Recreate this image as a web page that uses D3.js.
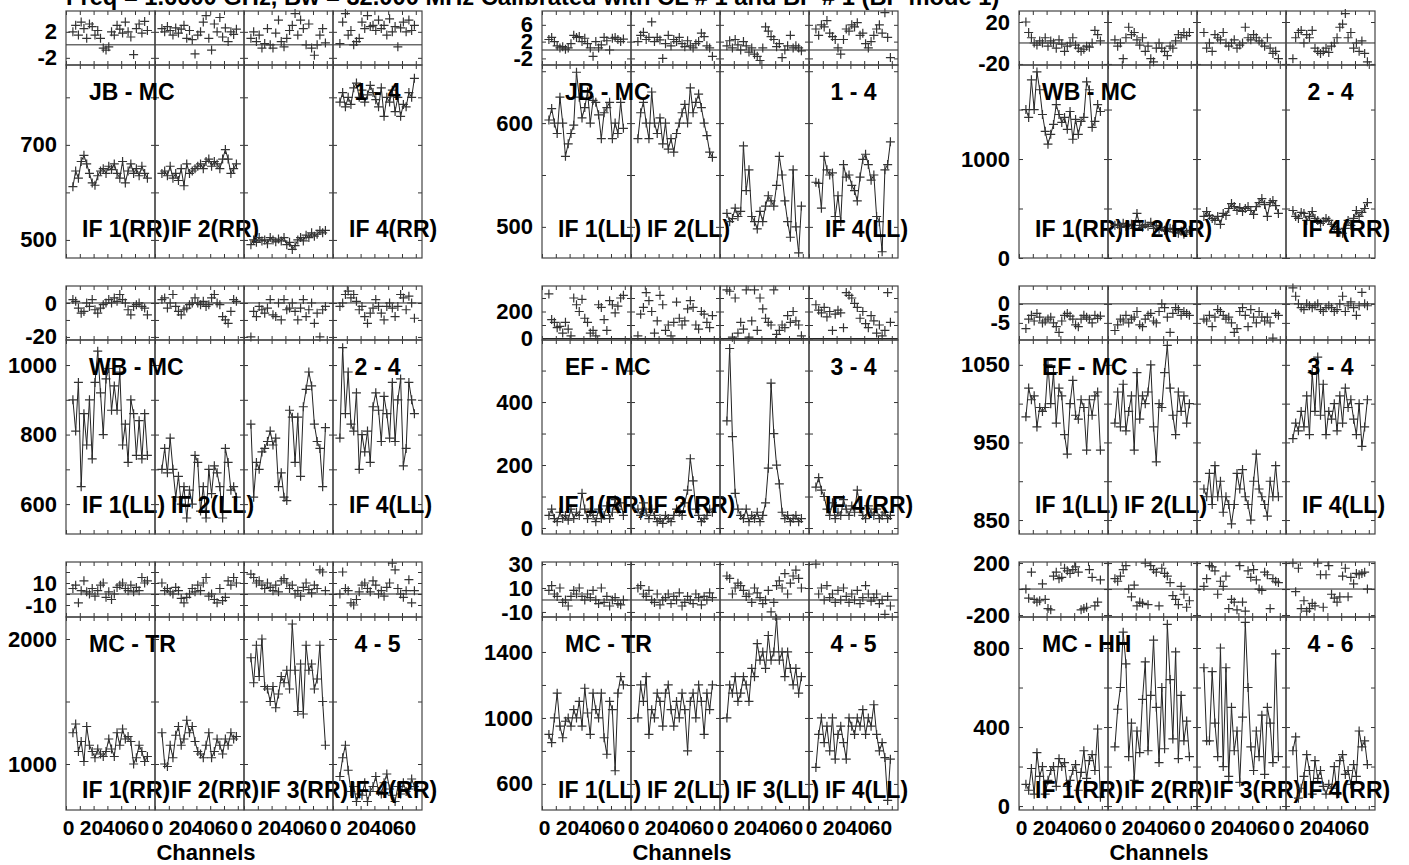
<!DOCTYPE html>
<html><head><meta charset="utf-8">
<script src="https://cdn.jsdelivr.net/npm/d3@7"></script>
<style>
body{margin:0;background:#fff;}
svg{display:block;}
text{font-family:"Liberation Sans",Arial,sans-serif;font-weight:bold;fill:#000;}
</style>
</head><body>
<svg id="c" width="1409" height="865"></svg>
<script>
// ---------------- data ----------------
const titleText = "Freq = 1.6600 GHz, Bw = 32.000 MHz Calibrated with CL # 1 and BP # 1 (BP mode 1)";
const channels = d3.range(5, 61, 2); // plotted channels 5..59
const xTickValues = [0, 10, 20, 30, 40, 50, 60];
const xTickLabels = [0, 20, 40, 60];

// JB - MC (RR)
const phase_JBMC_RR = [
 [2.0,3.0,1.5,3.5,2.5,1.0,3.2,2.8,1.5,2.2,1.0,-0.5,-0.8,-0.3,2.0,1.5,3.0,2.4,1.8,3.5,2.0,1.2,-1.5,2.5,3.2,1.8,3.6,2.2],
 [2.5,2.0,2.8,2.2,1.5,2.6,1.8,2.4,3.0,1.0,2.2,0.8,-1.4,1.5,2.0,3.5,4.5,1.0,-0.8,3.2,2.0,4.2,1.2,2.6,0.5,2.0,1.6,2.4],
 [1.0,2.0,0.5,1.5,-0.5,0.2,2.5,0.0,-0.5,1.8,3.8,0.5,-0.3,1.0,2.2,3.0,4.8,1.5,3.8,2.5,0.0,3.2,-0.5,-1.6,0.0,1.5,2.5,0.3],
 [0.2,3.5,4.8,1.5,2.2,0.0,0.5,1.0,3.5,2.5,4.5,2.8,3.0,2.2,3.8,2.5,3.0,1.5,4.0,2.0,2.8,-0.3,2.6,3.5,2.0,3.8,2.2,3.0]];
const amp_JBMC_RR = [
 [612,645,630,665,678,660,640,620,615,635,645,650,640,655,648,660,640,630,665,620,645,660,640,650,635,655,640,630],
 [640,645,635,655,630,640,625,650,614,660,640,645,650,655,660,650,665,670,655,665,660,650,670,690,670,640,650,660],
 [490,500,495,505,498,500,492,505,500,496,502,498,505,490,495,480,488,500,505,498,510,505,515,508,512,520,515,520],
 [790,810,780,800,785,820,830,800,815,790,805,825,810,795,780,820,760,800,790,815,770,800,760,785,780,810,800,840]];

// JB - MC (LL)
const phase_JBMC_LL = [
 [2.5,3.0,2.0,1.0,0.5,0.8,0.2,0.5,1.5,3.5,3.0,3.2,2.0,2.8,1.5,0.5,-1.5,2.0,0.5,1.2,3.0,2.2,0.0,2.8,3.0,2.5,2.0,2.6],
 [2.0,3.5,4.2,2.5,3.0,6.7,2.0,3.0,2.4,-2.0,1.5,3.5,1.0,2.5,2.0,3.0,1.5,0.8,2.2,1.0,0.5,1.5,2.0,4.0,3.2,1.0,0.5,-1.5],
 [1.0,2.2,0.5,2.5,1.2,0.0,2.0,1.0,-0.5,0.5,-1.0,-1.5,-2.5,0.5,5.5,4.5,3.2,2.5,0.8,1.5,-1.8,0.0,1.0,3.5,0.5,1.0,0.5,-0.2],
 [5.0,3.5,6.0,5.5,7.0,4.0,3.2,2.5,0.5,-1.0,2.5,5.0,4.5,6.0,5.5,6.5,3.5,4.0,1.5,0.5,2.0,3.5,5.0,6.0,4.0,8.9,3.0,-1.8]];
const amp_JBMC_LL = [
 [603,614,600,590,625,600,568,580,590,598,649,625,605,615,630,600,622,620,608,585,610,615,620,585,600,590,620,595],
 [585,610,620,600,585,630,600,590,605,580,600,575,585,572,590,600,610,618,600,634,610,620,628,615,600,588,572,567],
 [513,505,508,518,510,515,578,535,555,510,505,498,515,505,520,530,525,520,540,568,550,525,505,490,555,500,475,520],
 [543,542,518,568,555,550,552,510,530,505,560,548,550,540,535,525,548,565,570,560,545,550,510,505,476,555,560,582]];

// WB - MC (RR)
const phase_WBMC_RR = [
 [20,10,5,0,-2,2,0,5,-3,2,0,-5,3,-1,-8,-3,0,5,-2,-5,-8,-6,-3,-4,0,12,8,2],
 [3,-3,0,-15,5,15,8,10,3,-2,5,-8,-3,-15,-18,-5,0,-5,-8,-12,-3,-5,2,8,5,10,7,10],
 [10,-5,0,-8,8,5,3,10,0,-3,0,3,-5,-2,0,15,5,3,8,5,2,0,-3,5,-5,-10,-8,-15],
 [-15,5,10,12,0,8,5,12,-5,-8,-10,-8,-5,-9,-3,0,5,15,18,28,5,10,-5,0,-8,2,-10,-18]];
const amp_WBMC_RR = [
 [1500,1420,1800,1500,1880,1700,1450,1280,1150,1250,1350,1550,1450,1370,1420,1300,1480,1200,1400,1250,1380,1420,1780,1700,1320,1380,1550,1480],
 [330,340,310,350,320,330,340,300,450,330,310,340,320,360,300,330,290,310,280,270,300,290,260,250,270,240,260,280],
 [420,470,430,400,380,420,340,450,430,500,550,520,480,510,470,500,520,480,440,520,560,600,540,420,560,580,530,450],
 [480,420,400,460,450,380,420,470,400,380,350,370,400,380,340,320,290,260,250,300,380,330,400,480,420,460,500,560]];

// WB - MC (LL)
const phase_WBMC_LL = [
 [2,1,-3,-6,-5,0,-2,2,-4,-6,-3,-1,0,2,0,3,1,5,2,0,-4,-7,-2,-1,0,-2,-3,-7],
 [2,3,-3,0,5,-2,-5,-7,-4,-3,-1,0,3,0,-1,1,-2,-1,3,5,0,-1,-8,-10,-12,-5,2,1],
 [-20,-5,-8,-2,-4,-6,-3,2,-7,-8,0,-10,2,-4,-3,0,-5,-10,-3,2,-8,-4,0,-12,-6,-20,-4,-2],
 [-2,0,5,7,3,5,1,-4,-2,-8,-12,-6,-3,2,-2,-6,-10,-2,0,-3,-8,-2,5,3,-4,4,0,-9]];
const amp_WBMC_LL = [
 [900,810,950,650,860,770,900,730,950,1040,920,800,960,990,870,940,870,980,770,830,720,900,860,740,840,730,860,740],
 [700,760,690,790,700,620,680,600,650,560,640,600,740,720,580,650,560,700,630,710,690,650,560,760,720,640,650,620],
 [830,620,720,700,750,760,780,810,770,790,650,690,620,610,870,850,720,850,680,880,930,980,940,830,780,760,650,820],
 [790,1050,860,980,830,810,920,700,800,750,810,720,880,920,870,780,910,860,790,950,780,900,960,710,760,950,900,860]];

// EF - MC (RR)
const phase_EFMC_RR = [
 [330,140,120,80,90,40,120,70,20,300,250,200,290,150,120,40,60,20,250,230,140,60,280,250,190,240,300,320],
 [20,180,230,340,280,200,40,130,320,250,60,100,20,120,270,150,100,130,220,280,230,100,70,200,180,120,80,170],
 [360,350,10,300,40,120,70,360,10,130,360,60,300,220,150,120,100,360,30,60,100,80,170,120,200,130,100,20],
 [250,210,190,230,160,200,60,180,210,190,80,340,320,300,260,230,150,200,110,80,170,130,40,100,20,60,340,120]];
const amp_EFMC_RR = [
 [40,60,30,20,50,30,40,25,60,30,50,40,110,60,30,50,40,20,60,30,40,70,30,50,90,60,80,40],
 [60,40,80,50,30,60,40,20,30,15,40,30,20,40,60,50,40,80,120,220,150,60,40,20,30,40,60,50],
 [340,570,290,110,60,40,30,60,20,40,30,50,20,40,80,190,460,300,200,140,50,30,40,20,30,40,20,30],
 [130,160,120,100,60,40,80,30,50,40,90,60,40,70,50,120,60,40,30,70,50,40,60,30,40,50,30,40]];

// EF - MC (LL)
const phase_EFMC_LL = [
 [-6.5,-4,-3,-4.5,-2.5,-3.5,-5,-4.5,-4,-3.5,-5,-6,-7.5,-4.5,-3,-2.5,-3.2,-4,-5.5,-6,-4,-3,-3.5,-4,-5,-3,-3.8,-3.2],
 [-7,-5.5,-4,-4.5,-3,-5,-4,-3.5,-2,-5.5,-6,-4,-3,-2.5,-4.5,-5,-2,0,-1,-3.5,-7.5,-2.5,-1,-1.5,-3,-2,-2.5,-3],
 [-4,-4.5,-3,-6,-3.5,-1.5,-2,-3,-4,-3.5,-5,-7.5,-6.5,-2,-1,-3,-6,-1.5,-3.5,-5,-2,-3.5,-4.5,-3.5,-5,-9,-2.5,-3],
 [4.2,2,0,-1,-1.5,0,-0.5,-1,-0.5,0,-1.5,-2,-1,-0.5,-1,-2,-1.5,0,2,-2,-0.5,0.5,-1,-3,-0.5,3,0,-0.5]];
const amp_EFMC_LL = [
 [983,1020,1005,1010,970,995,990,995,1050,1000,1040,975,1020,1010,960,935,1000,1030,985,980,1005,995,940,1005,985,1010,1015,940],
 [975,1015,970,1025,965,990,1010,940,1040,980,1010,1000,1015,1050,970,925,1000,995,1040,1075,1020,985,960,1015,990,1010,975,1000],
 [890,880,910,870,920,880,900,860,880,870,845,870,910,890,915,880,870,850,900,935,890,880,870,855,900,880,920,880],
 [955,975,965,990,970,1010,960,1040,990,1060,985,1025,960,990,980,1000,965,1010,975,1020,995,1005,980,960,1000,945,970,1005]];

// MC - TR (RR)
const phase_MCTR_RR = [
 [5,8,-8,3,12,2,0,5,-2,3,8,10,-3,2,-5,0,6,8,10,5,3,8,2,6,3,15,10,12],
 [10,3,5,2,0,6,3,-4,-8,-3,0,5,2,8,3,10,15,-2,0,-5,-8,5,-6,-3,12,8,15,10],
 [18,15,10,12,8,5,10,6,3,8,2,12,14,10,5,8,0,3,-2,6,10,4,1,8,5,22,20,3],
 [0,20,5,3,-8,-10,-5,2,8,10,5,2,12,8,0,3,-2,6,10,28,22,5,0,-3,3,13,-8,3]];
const amp_MCTR_RR = [
 [1250,1320,1100,1180,1020,1300,1150,1100,1050,1120,1080,1060,1100,1200,1120,1060,1250,1150,1280,1200,1220,1180,1000,1050,1150,1100,1020,1060],
 [1250,1000,980,1150,1050,1230,1300,1150,1200,1350,1250,1300,1180,1100,1080,1050,1150,1250,1050,1100,1200,1150,1080,1200,1150,1250,1200,1220],
 [1850,1650,1950,1700,2000,1620,1600,1500,1620,1450,1560,1700,1650,1750,1600,2120,1750,1420,1800,1400,1950,1750,1800,1600,1680,1950,1500,1150],
 [900,1050,1150,950,780,820,700,760,750,850,700,780,820,900,780,760,850,920,800,750,700,820,760,850,780,800,880,820]];

// MC - TR (LL)
const phase_MCTR_LL = [
 [8,12,5,3,10,-2,0,-5,3,8,5,10,3,0,5,2,8,0,-3,10,-2,3,-5,0,2,-3,-4,0],
 [10,12,5,3,8,0,-2,5,-4,0,2,5,-3,3,0,6,-5,-2,3,0,-3,5,2,-4,3,0,6,2],
 [20,18,5,10,14,12,8,3,5,-2,10,6,2,-3,0,8,-10,-2,12,16,10,22,5,14,20,25,18,10],
 [30,5,10,0,12,2,5,-2,8,0,10,3,-2,5,0,8,-3,2,12,5,-1,2,5,-3,0,-12,3,-5]];
const amp_MCTR_LL = [
 [900,850,1000,1150,950,880,980,1000,950,1050,1000,1100,950,1180,1030,900,1150,1050,1000,1150,880,780,1100,1050,680,1150,1250,1200],
 [1000,1200,1100,1250,900,1050,1000,1150,1100,950,1150,1200,1050,950,1100,1000,1150,1050,800,1100,1150,1000,1200,1100,900,1150,1050,1200],
 [1000,1200,1150,1250,1100,1150,1250,1200,1100,1300,1250,1450,1350,1400,1300,1500,1350,1400,1600,1350,1400,1250,1400,1300,1200,1300,1150,1250],
 [700,900,1000,850,950,800,1000,750,900,950,850,750,1000,950,900,1000,950,1050,900,1000,950,1080,900,800,850,760,500,750]];

// MC - HH (RR)
const phase_MCHH_RR = [
 [0,-70,130,-80,-100,-90,40,-80,-150,-160,100,130,80,90,160,140,120,150,170,130,-160,-150,-140,150,90,-130,-100,70],
 [80,60,100,150,180,0,-60,30,-130,-100,-110,200,-120,180,150,130,-130,160,120,100,50,-50,-80,-120,20,-40,-140,-90],
 [20,80,180,170,140,-40,60,20,100,-150,-80,-100,-160,180,-100,-170,140,90,150,70,0,-10,130,110,-150,80,60,50],
 [200,-20,160,-150,-90,-170,-150,-110,-130,200,110,-140,110,180,-40,-70,-100,-60,100,160,-60,90,40,120,110,120,130,0]];
const amp_MCHH_RR = [
 [110,80,190,60,270,150,200,60,130,180,200,100,240,200,220,100,130,180,210,80,170,280,140,230,260,180,390,45],
 [300,490,600,880,720,250,420,130,380,270,540,730,280,560,840,500,220,600,290,920,640,340,780,240,560,330,430,250],
 [700,330,330,680,420,250,800,200,700,150,500,280,380,120,450,930,600,300,180,380,250,460,160,500,420,220,770,250],
 [280,350,40,90,150,260,180,60,230,140,180,100,60,110,90,200,60,230,260,160,180,110,210,150,380,300,330,210]];

// axis ticks and tick labels
const phaseTicks = [[-2,2],[-2,2,6],[-20,20],[-20,-10,0],[0,100,200,300],[-5,0],[-10,0,10,20],[-10,10,30],[-200,0,200]];
const phaseLabels = [[-2,2],[-2,2,6],[-20,20],[-20,0],[0,200],[-5,0],[-10,10],[-10,10,30],[-200,200]];
const ampTicks = [[500,600,700,800],[500,550,600,650],[0,500,1000,1500],[600,700,800,900,1000],[0,100,200,300,400,500],[850,900,950,1000,1050],[1000,1500,2000],[600,800,1000,1200,1400],[0,200,400,600,800]];
const ampLabels = [[500,700],[500,600],[0,1000],[600,800,1000],[0,200,400],[850,950,1050],[1000,2000],[600,1000,1400],[0,400,800]];
const baselineNames = ["JB - MC","JB - MC","WB - MC","WB - MC","EF - MC","EF - MC","MC - TR","MC - TR","MC - HH"];
const antennaPairs = ["1 - 4","1 - 4","2 - 4","2 - 4","3 - 4","3 - 4","4 - 5","4 - 5","4 - 6"];
const polarizations = ["RR","LL","RR","LL","RR","LL","RR","LL","RR"];
const ifLabelShown = [[1,2,4],[1,2,4],[1,2,4],[1,2,4],[1,2,4],[1,2,4],[1,2,3,4],[1,2,3,4],[1,2,3,4]];

// ---------------- layout ----------------
const COL_LEFT = [66, 542, 1019], COL_W = 356, IF_W = COL_W / 4;
const PH_TOP = [11, 286, 562], PH_BOT = [65, 340, 617], AMP_BOT = [258, 534, 810];
const IFLAB_OFF = [21, 21, 12];
const phaseDomains = [[-3.1,5.2],[-3.57,9.29],[-21,30.5],[-21.8,10],[-11,389],[-9.5,4.7],[-20.9,29.1],[-14.2,31.7],[-215,208]];
const ampDomains = [[462,868],[470,656],[0,1950],[514,1072],[-19,597],[832,1082],[632,2176],[442,1612],[-20,957]];

const phaseSets = [phase_JBMC_RR, phase_JBMC_LL, phase_WBMC_RR, phase_WBMC_LL, phase_EFMC_RR, phase_EFMC_LL, phase_MCTR_RR, phase_MCTR_LL, phase_MCHH_RR];
const ampSets = [amp_JBMC_RR, amp_JBMC_LL, amp_WBMC_RR, amp_WBMC_LL, amp_EFMC_RR, amp_EFMC_LL, amp_MCTR_RR, amp_MCTR_LL, amp_MCHH_RR];

const svg = d3.select("#c");
const FONT = '"Liberation Sans", Arial, sans-serif';
const INK = "#222";
const MARK = "#333";
const fmt = d => String(d);

svg.append("text").attr("x", 66).attr("y", 5).attr("font-size", 23.7).text(titleText);

const plus = "M-4.5,0H4.5M0,-4.5V4.5";

function styleAxis(sel) {
  sel.select(".domain").remove();
  sel.selectAll(".tick line").attr("stroke", "#333").attr("stroke-width", 1);
  sel.attr("font-family", FONT);
}

for (let p = 0; p < 9; p++) {
  const row = Math.floor(p / 3), col = p % 3;
  const left = COL_LEFT[col];
  const g = svg.append("g");
  const yP = d3.scaleLinear().domain(phaseDomains[p]).range([PH_BOT[row], PH_TOP[row]]);
  const yA = d3.scaleLinear().domain(ampDomains[p]).range([AMP_BOT[row], PH_BOT[row]]);

  // zero line in phase strip
  g.append("line").attr("x1", left).attr("x2", left + COL_W)
    .attr("y1", yP(0)).attr("y2", yP(0)).attr("stroke", "#222").attr("stroke-width", 1);

  for (let k = 0; k < 4; k++) {
    const x = d3.scaleLinear().domain([0, 64.5]).range([left + k * IF_W, left + (k + 1) * IF_W]);
    const x0 = left + k * IF_W, x1 = left + (k + 1) * IF_W;

    // ticks (inward) – phase strip
    g.append("g").attr("transform", `translate(${x0},0)`).call(d3.axisLeft(yP).tickValues(phaseTicks[p]).tickSize(-4).tickFormat("")).call(styleAxis);
    g.append("g").attr("transform", `translate(${x1},0)`).call(d3.axisRight(yP).tickValues(phaseTicks[p]).tickSize(-4).tickFormat("")).call(styleAxis);
    g.append("g").attr("transform", `translate(0,${PH_TOP[row]})`).call(d3.axisTop(x).tickValues(xTickValues).tickSize(-4).tickFormat("")).call(styleAxis);
    g.append("g").attr("transform", `translate(0,${PH_BOT[row]})`).call(d3.axisBottom(x).tickValues(xTickValues).tickSize(-4).tickFormat("")).call(styleAxis);
    // ticks – amplitude strip
    g.append("g").attr("transform", `translate(${x0},0)`).call(d3.axisLeft(yA).tickValues(ampTicks[p]).tickSize(-4).tickFormat("")).call(styleAxis);
    g.append("g").attr("transform", `translate(${x1},0)`).call(d3.axisRight(yA).tickValues(ampTicks[p]).tickSize(-4).tickFormat("")).call(styleAxis);
    g.append("g").attr("transform", `translate(0,${PH_BOT[row]})`).call(d3.axisTop(x).tickValues(xTickValues).tickSize(-4).tickFormat("")).call(styleAxis);
    g.append("g").attr("transform", `translate(0,${AMP_BOT[row]})`).call(d3.axisBottom(x).tickValues(xTickValues).tickSize(-4).tickFormat("")).call(styleAxis);

    // phase points
    const ph = phaseSets[p][k];
    g.append("g").selectAll("path").data(ph).join("path")
      .attr("d", plus).attr("transform", (d, i) => `translate(${x(channels[i])},${yP(d)})`)
      .attr("stroke", MARK).attr("stroke-width", 1.2).attr("fill", "none");

    // amplitude line + points
    const am = ampSets[p][k];
    const line = d3.line().x((d, i) => x(channels[i])).y(d => yA(d));
    g.append("path").datum(am).attr("d", line).attr("fill", "none").attr("stroke", INK).attr("stroke-width", 1);
    g.append("g").selectAll("path").data(am).join("path")
      .attr("d", plus).attr("transform", (d, i) => `translate(${x(channels[i])},${yA(d)})`)
      .attr("stroke", MARK).attr("stroke-width", 1.2).attr("fill", "none");

    // frames
    g.append("rect").attr("x", x0).attr("y", PH_TOP[row]).attr("width", IF_W).attr("height", PH_BOT[row] - PH_TOP[row])
      .attr("fill", "none").attr("stroke", "#444").attr("stroke-width", 1.2);
    g.append("rect").attr("x", x0).attr("y", PH_BOT[row]).attr("width", IF_W).attr("height", AMP_BOT[row] - PH_BOT[row])
      .attr("fill", "none").attr("stroke", "#444").attr("stroke-width", 1.2);

    // channel tick labels on bottom row (placed as in the reference, slightly compressed)
    if (row === 2) {
      const xl = d3.scaleLinear().domain([0, 60]).range([x0 + 2, x0 + 71]);
      const ax = g.append("g").attr("transform", `translate(0,${AMP_BOT[row]})`)
        .call(d3.axisBottom(xl).tickValues(xTickLabels).tickSize(0).tickPadding(10).tickFormat(fmt));
      ax.select(".domain").remove();
      ax.selectAll("text").attr("font-size", 21).attr("font-weight", "bold").attr("fill", "#000");
    }

    // IF labels
    if (ifLabelShown[p].includes(k + 1)) {
      g.append("text").attr("x", x0 + 16).attr("y", AMP_BOT[row] - IFLAB_OFF[row]).attr("font-size", 23)
        .text(`IF ${k + 1}(${polarizations[p]})`);
    }
  }

  // y tick labels
  const lp = g.append("g").attr("transform", `translate(${left},0)`)
    .call(d3.axisLeft(yP).tickValues(phaseLabels[p]).tickSize(0).tickPadding(9).tickFormat(fmt));
  lp.select(".domain").remove();
  lp.selectAll("text").attr("font-size", 22).attr("font-weight", "bold").attr("fill", "#000");
  const la = g.append("g").attr("transform", `translate(${left},0)`)
    .call(d3.axisLeft(yA).tickValues(ampLabels[p]).tickSize(0).tickPadding(9).tickFormat(fmt));
  la.select(".domain").remove();
  la.selectAll("text").attr("font-size", 22).attr("font-weight", "bold").attr("fill", "#000");

  // baseline and antenna labels
  g.append("text").attr("x", left + 23).attr("y", PH_BOT[row] + 35).attr("font-size", 23).text(baselineNames[p]);
  g.append("text").attr("x", left + 3.5 * IF_W).attr("y", PH_BOT[row] + 35).attr("font-size", 23)
    .attr("text-anchor", "middle").text(antennaPairs[p]);

  if (row === 2) {
    g.append("text").attr("x", left + 140).attr("y", 860).attr("font-size", 22).attr("text-anchor", "middle").text("Channels");
  }
}
</script>
</body></html>
